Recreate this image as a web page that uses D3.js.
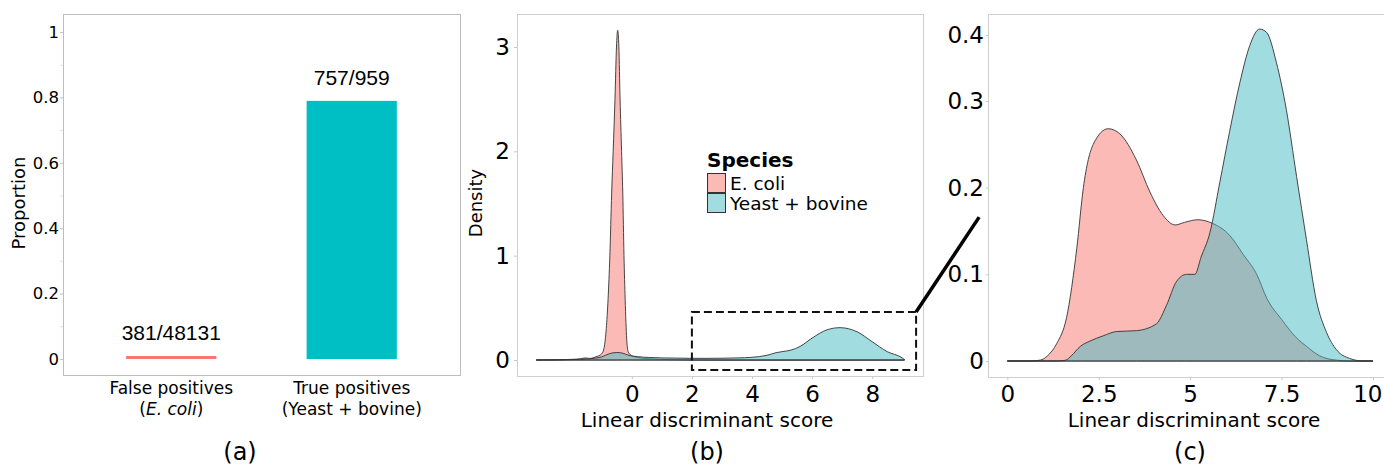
<!DOCTYPE html>
<html>
<head>
<meta charset="utf-8">
<script src="https://cdn.jsdelivr.net/npm/d3@7"></script>
<style>
  body { margin: 0; background: #fff; }
  svg { display: block; }
  text { font-family: "DejaVu Sans", sans-serif; fill: #000; }
</style>
</head>
<body>
<svg id="fig" width="1384" height="468"></svg>
<script>
// ---- data ----
const barCategories = ["False positives", "True positives"];
const barSubLabels = ["E. coli", "Yeast + bovine"];
const barCounts = [381, 757];
const barTotals = [48131, 959];
const yTicksA = [0, 0.2, 0.4, 0.6, 0.8, 1];

const species = ["E. coli", "Yeast + bovine"];

// (b) full range densities
const ecoliFullX = [-3.18, -2.5, -2.0, -1.7, -1.55, -1.4, -1.2, -1.0, -0.92, -0.85, -0.79, -0.73, -0.67, -0.62, -0.56, -0.51, -0.47, -0.43, -0.39, -0.34, -0.30, -0.26, -0.22, -0.17, -0.12, 0.0, 0.3, 0.7, 1.2, 2.0, 3.0, 9.06];
const ecoliFullY = [0, 0.002, 0.006, 0.012, 0.02, 0.015, 0.03, 0.06, 0.12, 0.3, 0.58, 1.0, 1.6, 2.0, 2.5, 3.0, 3.16, 3.0, 2.5, 2.0, 1.6, 1.0, 0.58, 0.2, 0.08, 0.04, 0.02, 0.01, 0.004, 0.001, 0, 0];
const yeastFullX = [-3.18, -2.5, -2.0, -1.5, -1.0, -0.75, -0.5, -0.3, -0.1, 0.2, 0.6, 1.0, 1.5, 2.0, 2.5, 3.0, 3.5, 4.0, 4.5, 4.8, 5.0, 5.3, 5.6, 6.0, 6.5, 6.93, 7.5, 8.0, 8.5, 9.0, 9.09];
const yeastFullY = [0, 0.001, 0.004, 0.01, 0.03, 0.06, 0.072, 0.065, 0.045, 0.032, 0.024, 0.02, 0.018, 0.016, 0.016, 0.017, 0.02, 0.026, 0.045, 0.07, 0.08, 0.095, 0.13, 0.21, 0.29, 0.31, 0.27, 0.175, 0.08, 0.02, 0];
const yTicksB = [0, 1, 2, 3];
const xTicksB = [0, 2, 4, 6, 8];

// (c) zoomed densities
const ecoliZoomX = [0, 0.6, 0.9, 1.1, 1.35, 1.62, 1.9, 2.08, 2.35, 2.76, 3.08, 3.53, 3.9, 4.26, 4.59, 4.85, 5.21, 5.6, 6.08, 6.45, 6.82, 7.1, 7.5, 7.9, 8.18, 8.54, 9.0, 9.4, 10];
const ecoliZoomY = [0, 0, 0.001, 0.006, 0.02, 0.05, 0.13, 0.2, 0.25, 0.268, 0.262, 0.232, 0.195, 0.168, 0.157, 0.16, 0.163, 0.159, 0.145, 0.123, 0.1, 0.072, 0.048, 0.027, 0.017, 0.006, 0.001, 0, 0];
const yeastZoomX = [0, 1.4, 1.6, 1.75, 2.0, 2.26, 2.62, 2.99, 3.53, 4.08, 4.35, 4.63, 4.9, 5.13, 5.3, 5.54, 5.81, 6.08, 6.36, 6.63, 6.9, 7.09, 7.36, 7.63, 7.91, 8.18, 8.45, 8.73, 9.0, 9.36, 9.73, 10];
const yeastZoomY = [0, 0, 0.001, 0.006, 0.017, 0.023, 0.029, 0.034, 0.035, 0.043, 0.064, 0.092, 0.1, 0.1, 0.12, 0.148, 0.206, 0.265, 0.328, 0.384, 0.409, 0.404, 0.358, 0.29, 0.213, 0.14, 0.07, 0.033, 0.013, 0.003, 0, 0];
const yTicksC = [0, 0.1, 0.2, 0.3, 0.4];
const xTicksC = [0, 2.5, 5, 7.5, 10];

// zoom box drawn on (b)
const zoomBox = { x0: 2, x1: 9.46, y0: -0.096, y1: 0.46 };

const pinkFill = "#F8766D";
const cyanFill = "rgb(65,185,193)";
const barCyan = "#00BFC4";

const svg = d3.select("#fig");

function styleAxis(g, size) {
  g.select(".domain").remove();
  g.selectAll(".tick line").attr("stroke", "#c8c8c8");
  g.selectAll(".tick text").attr("fill", "#000").style("font-family", '"DejaVu Sans", sans-serif').style("font-size", size + "px");
}

// ---------------- (a) ----------------
const xA = d3.scaleBand().domain(barCategories).range([63, 460]).paddingInner(0.5).paddingOuter(0.35);
const yA = d3.scaleLinear().domain([0, 1]).range([359, 32]);

svg.append("rect").attr("x", 63.5).attr("y", 14.5).attr("width", 397).attr("height", 361)
  .attr("fill", "none").attr("stroke", "#bdbdbd");

svg.append("g").attr("transform", "translate(63,0)")
  .call(d3.axisLeft(yA).tickValues(d3.range(0, 1.01, 0.1)).tickSize(3).tickFormat(""))
  .call(g => { g.select(".domain").remove(); g.selectAll(".tick line").attr("stroke", "#e2e2e2"); });
svg.append("g").attr("transform", "translate(63,0)")
  .call(d3.axisLeft(yA).tickValues(yTicksA).tickSize(3).tickPadding(1).tickFormat(d3.format("~g")))
  .call(g => styleAxis(g, 16.5));

const props = barCounts.map((c, i) => c / barTotals[i]);
svg.selectAll(".bar").data(barCategories).join("rect")
  .attr("x", d => xA(d)).attr("width", xA.bandwidth())
  .attr("y", (d, i) => Math.min(yA(props[i]), yA(0) - 3))
  .attr("height", (d, i) => Math.max(yA(0) - yA(props[i]), 3))
  .attr("fill", (d, i) => i === 0 ? pinkFill : barCyan);

svg.selectAll(".barlab").data(barCategories).join("text")
  .attr("x", d => xA(d) + xA.bandwidth() / 2)
  .attr("y", (d, i) => yA(props[i]) - 16)
  .attr("text-anchor", "middle")
  .style("font-family", '"Liberation Sans Narrow", "Liberation Sans", sans-serif')
  .style("font-size", "21px")
  .text((d, i) => barCounts[i] + "/" + barTotals[i]);

barCategories.forEach((c, i) => {
  const cx = xA(c) + xA.bandwidth() / 2;
  svg.append("text").attr("x", cx).attr("y", 394).attr("text-anchor", "middle")
    .style("font-size", "17px").text(c);
  const t = svg.append("text").attr("x", cx).attr("y", 415).attr("text-anchor", "middle")
    .style("font-size", "17px");
  t.append("tspan").text("(");
  t.append("tspan").style("font-style", i === 0 ? "italic" : "normal").text(barSubLabels[i]);
  t.append("tspan").text(")");
});

svg.append("text").attr("transform", "translate(25,203) rotate(-90)").attr("text-anchor", "middle")
  .style("font-size", "18px").text("Proportion");
svg.append("text").attr("x", 240).attr("y", 460).attr("text-anchor", "middle")
  .style("font-size", "24px").text("(a)");

// ---------------- (b) ----------------
const xB = d3.scaleLinear().domain([-3.82, 9.69]).range([517, 923]);
const yB = d3.scaleLinear().domain([0, 3]).range([360, 47]);

svg.append("rect").attr("x", 517.5).attr("y", 14.5).attr("width", 406).attr("height", 362)
  .attr("fill", "none").attr("stroke", "#cfcfcf");

svg.append("g").attr("transform", "translate(517,0)")
  .call(d3.axisLeft(yB).tickValues(yTicksB).tickSize(3).tickPadding(4).tickFormat(d3.format("~g")))
  .call(g => styleAxis(g, 23));
svg.append("g").attr("transform", "translate(0,376)")
  .call(d3.axisBottom(xB).tickValues(xTicksB).tickSize(3).tickPadding(7).tickFormat(d3.format("~g")))
  .call(g => styleAxis(g, 23));

function drawDensity(xs, ys, xScale, yScale, fill) {
  const pts = xs.map((x, i) => [x, ys[i]]);
  const area = d3.area().x(d => xScale(d[0])).y0(yScale(0)).y1(d => yScale(d[1])).curve(d3.curveMonotoneX);
  svg.append("path").datum(pts).attr("d", area)
    .attr("fill", fill).attr("fill-opacity", 0.5)
    .attr("stroke", "#333").attr("stroke-width", 0.9).attr("stroke-linejoin", "round");
}

drawDensity(ecoliFullX, ecoliFullY, xB, yB, pinkFill);
drawDensity(yeastFullX, yeastFullY, xB, yB, cyanFill);

svg.append("rect")
  .attr("x", xB(zoomBox.x0)).attr("y", yB(zoomBox.y1))
  .attr("width", xB(zoomBox.x1) - xB(zoomBox.x0)).attr("height", yB(zoomBox.y0) - yB(zoomBox.y1))
  .attr("fill", "none").attr("stroke", "#111").attr("stroke-width", 2).attr("stroke-dasharray", "8,4");

// legend
const leg = svg.append("g").attr("transform", "translate(707,0)");
leg.append("text").attr("x", 0).attr("y", 167).style("font-size", "20px").style("font-weight", "bold").text("Species");
species.forEach((s, i) => {
  leg.append("rect").attr("x", 0.5).attr("y", 173.5 + i * 20).attr("width", 18).attr("height", 19)
    .attr("fill", i === 0 ? pinkFill : cyanFill).attr("fill-opacity", 0.5)
    .attr("stroke", "#333").attr("stroke-width", 1);
  leg.append("text").attr("x", 23).attr("y", 190 + i * 20).style("font-size", "18.5px").text(s);
});

svg.append("text").attr("transform", "translate(482,203) rotate(-90)").attr("text-anchor", "middle")
  .style("font-size", "18px").text("Density");
svg.append("text").attr("x", 707).attr("y", 427).attr("text-anchor", "middle")
  .style("font-size", "20px").text("Linear discriminant score");
svg.append("text").attr("x", 707).attr("y", 460).attr("text-anchor", "middle")
  .style("font-size", "24px").text("(b)");

// ---------------- (c) ----------------
const xC = d3.scaleLinear().domain([0, 10]).range([1007.3, 1373]);
const yC = d3.scaleLinear().domain([0, 0.3, 0.4]).range([361, 101, 35]);

svg.append("path").attr("d", "M1384,14.5H988.5V377.5H1384")
  .attr("fill", "none").attr("stroke", "#cfcfcf");

svg.append("g").attr("transform", "translate(988,0)")
  .call(d3.axisLeft(yC).tickValues(yTicksC).tickSize(2).tickPadding(2).tickFormat(d3.format("~g")))
  .call(g => styleAxis(g, 23));
svg.append("g").attr("transform", "translate(0,377)")
  .call(d3.axisBottom(xC).tickValues(xTicksC).tickSize(3).tickPadding(6).tickFormat(d3.format("~g")))
  .call(g => {
    styleAxis(g, 23);
    // keep the last label inside the canvas
    g.selectAll(".tick text").filter(d => d === xTicksC[xTicksC.length - 1])
      .attr("text-anchor", "end").attr("dx", 9);
  });

drawDensity(ecoliZoomX, ecoliZoomY, xC, yC, pinkFill);
drawDensity(yeastZoomX, yeastZoomY, xC, yC, cyanFill);

svg.append("text").attr("x", 1194).attr("y", 427).attr("text-anchor", "middle")
  .style("font-size", "20px").text("Linear discriminant score");
svg.append("text").attr("x", 1190).attr("y", 460).attr("text-anchor", "middle")
  .style("font-size", "24px").text("(c)");

// connector from zoom box to panel (c)
svg.append("line")
  .attr("x1", xB(zoomBox.x1)).attr("y1", yB(zoomBox.y1))
  .attr("x2", xC(-0.77)).attr("y2", yC(0.166))
  .attr("stroke", "#000").attr("stroke-width", 3.5);
</script>
</body>
</html>
